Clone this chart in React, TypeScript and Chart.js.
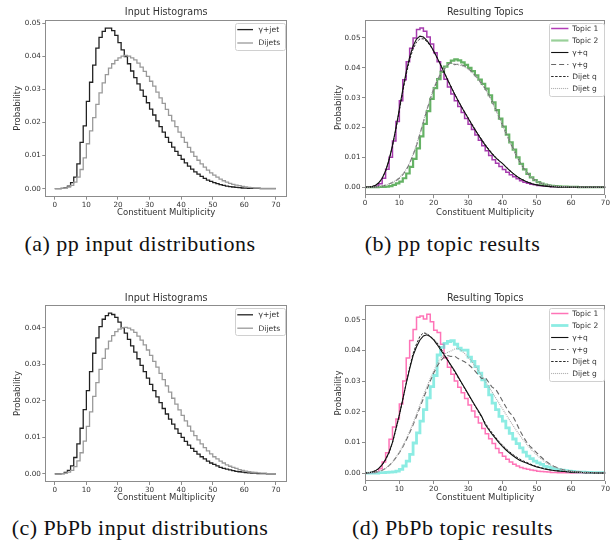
import React, { useEffect, useRef } from 'react';
import { Chart, registerables } from 'chart.js';
Chart.register(...registerables);

// ---------- data ----------
const binEdges = Array.from({ length: 71 }, (_, i) => i);
const xTickValues = [0, 10, 20, 30, 40, 50, 60, 70];
const yTicks05 = [0, 0.01, 0.02, 0.03, 0.04, 0.05];
const yTicks04 = [0, 0.01, 0.02, 0.03, 0.04];

const titleInput = 'Input Histograms';
const titleTopics = 'Resulting Topics';
const xAxisLabel = 'Constituent Multiplicity';
const yAxisLabel = 'Probability';
const captions = ['(a) pp input distributions', '(b) pp topic results', '(c) PbPb input distributions', '(d) PbPb topic results'];

// (a) pp input histograms, bins 0..69
const ppGammaJet = [
  0, 0, 0.0001, 0.0003, 0.0008, 0.0018, 0.0035, 0.0075, 0.0140, 0.0190,
  0.0264, 0.0322, 0.0374, 0.0425, 0.0458, 0.0476, 0.0486, 0.0486, 0.0478, 0.0464,
  0.0442, 0.0420, 0.0400, 0.0378, 0.0356, 0.0336, 0.0317, 0.0298, 0.0279, 0.0260,
  0.0241, 0.0223, 0.0205, 0.0188, 0.0171, 0.0155, 0.0140, 0.0126, 0.0113, 0.0101,
  0.0089, 0.0078, 0.0068, 0.0059, 0.0051, 0.0044, 0.0037, 0.0031, 0.0026, 0.0022,
  0.0018, 0.0015, 0.0012, 0.0010, 0.0008, 0.0006, 0.0005, 0.0004, 0.0003, 0.0002,
  0.0002, 0.0001, 0.0001, 0.0001, 0.0001, 0, 0, 0, 0, 0,
];
const ppDijets = [
  0, 0, 0.0001, 0.0002, 0.0005, 0.0010, 0.0020, 0.0035, 0.0058, 0.0093,
  0.0136, 0.0175, 0.0215, 0.0255, 0.0290, 0.0320, 0.0345, 0.0365, 0.0378, 0.0388,
  0.0396, 0.0401, 0.0403, 0.0401, 0.0396, 0.0390, 0.0380, 0.0368, 0.0355, 0.0340,
  0.0325, 0.0310, 0.0292, 0.0275, 0.0258, 0.0240, 0.0222, 0.0205, 0.0188, 0.0171,
  0.0155, 0.0140, 0.0125, 0.0111, 0.0098, 0.0086, 0.0075, 0.0065, 0.0056, 0.0048,
  0.0041, 0.0035, 0.0029, 0.0024, 0.0020, 0.0016, 0.0013, 0.0011, 0.0009, 0.0007,
  0.0005, 0.0004, 0.0003, 0.0002, 0.0002, 0.0001, 0.0001, 0.0001, 0.0001, 0.0001,
];

// (b) pp topics (histograms, bins 0..69) and reference curves (x = 0..70)
const ppTopic1 = [
  0, 0, 0.0001, 0.0004, 0.0012, 0.0030, 0.0060, 0.0100, 0.0155, 0.0220,
  0.0290, 0.0360, 0.0420, 0.0465, 0.0500, 0.0528, 0.0533, 0.0522, 0.0503, 0.0480,
  0.0450, 0.0420, 0.0390, 0.0362, 0.0336, 0.0312, 0.0290, 0.0270, 0.0250, 0.0230,
  0.0211, 0.0193, 0.0175, 0.0157, 0.0139, 0.0122, 0.0106, 0.0092, 0.0080, 0.0069,
  0.0059, 0.0050, 0.0042, 0.0035, 0.0028, 0.0022, 0.0017, 0.0013, 0.0010, 0.0008,
  0.0006, 0.0005, 0.0004, 0.0003, 0.0002, 0.0002, 0.0001, 0.0001, 0.0001, 0.0001,
  0, 0, 0, 0, 0, 0, 0, 0, 0, 0,
];
const ppTopic2 = [
  0, 0, 0, 0, 0.0001, 0.0001, 0.0002, 0.0004, 0.0008, 0.0013,
  0.0019, 0.0030, 0.0046, 0.0068, 0.0095, 0.0130, 0.0170, 0.0212, 0.0255, 0.0296,
  0.0332, 0.0362, 0.0386, 0.0404, 0.0416, 0.0424, 0.0428, 0.0425, 0.0418, 0.0410,
  0.0400, 0.0389, 0.0375, 0.0360, 0.0346, 0.0330, 0.0308, 0.0284, 0.0258, 0.0230,
  0.0203, 0.0176, 0.0150, 0.0126, 0.0100, 0.0078, 0.0060, 0.0045, 0.0033, 0.0024,
  0.0017, 0.0012, 0.0009, 0.0006, 0.0005, 0.0004, 0.0003, 0.0002, 0.0002, 0.0001,
  0.0001, 0.0001, 0, 0, 0, 0, 0, 0, 0, 0,
];
const ppGammaQ = [
  0, 0.0001, 0.0002, 0.0006, 0.0015, 0.0030, 0.0055, 0.0092, 0.0140, 0.0198,
  0.0262, 0.0327, 0.0386, 0.0436, 0.0473, 0.0496, 0.0506, 0.0503, 0.0492, 0.0476,
  0.0456, 0.0434, 0.0410, 0.0386, 0.0361, 0.0337, 0.0314, 0.0292, 0.0271, 0.0251,
  0.0232, 0.0212, 0.0193, 0.0175, 0.0157, 0.0141, 0.0126, 0.0112, 0.0099, 0.0089,
  0.0080, 0.0068, 0.0057, 0.0047, 0.0038, 0.0030, 0.0024, 0.0018, 0.0014, 0.0010,
  0.0008, 0.0006, 0.0004, 0.0003, 0.0002, 0.0002, 0.0001, 0.0001, 0.0001, 0,
  0, 0, 0, 0, 0, 0, 0, 0, 0, 0, 0,
];
const ppGammaG = [
  0, 0, 0.0001, 0.0001, 0.0002, 0.0004, 0.0007, 0.0011, 0.0016, 0.0022,
  0.0030, 0.0042, 0.0058, 0.0080, 0.0108, 0.0140, 0.0178, 0.0218, 0.0258, 0.0295,
  0.0328, 0.0357, 0.0378, 0.0395, 0.0408, 0.0418, 0.0410, 0.0412, 0.0410, 0.0405,
  0.0398, 0.0388, 0.0375, 0.0361, 0.0346, 0.0330, 0.0310, 0.0287, 0.0262, 0.0236,
  0.0209, 0.0182, 0.0156, 0.0132, 0.0108, 0.0086, 0.0067, 0.0051, 0.0038, 0.0028,
  0.0020, 0.0015, 0.0011, 0.0008, 0.0006, 0.0004, 0.0003, 0.0002, 0.0002, 0.0001,
  0.0001, 0.0001, 0, 0, 0, 0, 0, 0, 0, 0, 0,
];
const ppDijetQ = [
  0, 0.0001, 0.0002, 0.0006, 0.0014, 0.0029, 0.0054, 0.0090, 0.0137, 0.0194,
  0.0257, 0.0320, 0.0378, 0.0427, 0.0463, 0.0486, 0.0497, 0.0497, 0.0488, 0.0474,
  0.0455, 0.0433, 0.0410, 0.0386, 0.0362, 0.0338, 0.0315, 0.0293, 0.0272, 0.0252,
  0.0233, 0.0214, 0.0195, 0.0177, 0.0160, 0.0143, 0.0128, 0.0114, 0.0101, 0.0090,
  0.0080, 0.0069, 0.0058, 0.0048, 0.0039, 0.0031, 0.0025, 0.0019, 0.0015, 0.0011,
  0.0008, 0.0006, 0.0005, 0.0003, 0.0002, 0.0002, 0.0001, 0.0001, 0.0001, 0,
  0, 0, 0, 0, 0, 0, 0, 0, 0, 0, 0,
];
const ppDijetG = [
  0, 0, 0.0001, 0.0001, 0.0002, 0.0004, 0.0007, 0.0011, 0.0016, 0.0023,
  0.0032, 0.0044, 0.0060, 0.0082, 0.0110, 0.0143, 0.0181, 0.0221, 0.0261, 0.0298,
  0.0331, 0.0359, 0.0381, 0.0398, 0.0410, 0.0416, 0.0414, 0.0410, 0.0408, 0.0403,
  0.0396, 0.0386, 0.0374, 0.0360, 0.0345, 0.0329, 0.0309, 0.0286, 0.0261, 0.0235,
  0.0208, 0.0181, 0.0155, 0.0131, 0.0107, 0.0085, 0.0066, 0.0050, 0.0038, 0.0028,
  0.0020, 0.0015, 0.0011, 0.0008, 0.0006, 0.0004, 0.0003, 0.0002, 0.0002, 0.0001,
  0.0001, 0.0001, 0, 0, 0, 0, 0, 0, 0, 0, 0,
];

// (c) PbPb input histograms, bins 0..69
const pbGammaJet = [
  0, 0, 0.0001, 0.0004, 0.0010, 0.0022, 0.0045, 0.0082, 0.0125, 0.0176,
  0.0228, 0.0280, 0.0330, 0.0372, 0.0403, 0.0423, 0.0433, 0.0440, 0.0436, 0.0428,
  0.0415, 0.0400, 0.0385, 0.0368, 0.0350, 0.0333, 0.0315, 0.0297, 0.0280, 0.0262,
  0.0245, 0.0228, 0.0211, 0.0195, 0.0179, 0.0164, 0.0150, 0.0136, 0.0123, 0.0111,
  0.0100, 0.0089, 0.0079, 0.0070, 0.0062, 0.0054, 0.0047, 0.0041, 0.0035, 0.0030,
  0.0026, 0.0022, 0.0018, 0.0015, 0.0013, 0.0011, 0.0009, 0.0007, 0.0006, 0.0005,
  0.0004, 0.0003, 0.0002, 0.0002, 0.0001, 0.0001, 0.0001, 0, 0, 0,
];
const pbDijets = [
  0, 0, 0.0001, 0.0002, 0.0005, 0.0010, 0.0020, 0.0036, 0.0058, 0.0090,
  0.0130, 0.0170, 0.0212, 0.0250, 0.0286, 0.0316, 0.0342, 0.0363, 0.0378, 0.0389,
  0.0396, 0.0400, 0.0401, 0.0399, 0.0394, 0.0387, 0.0377, 0.0366, 0.0353, 0.0339,
  0.0324, 0.0308, 0.0292, 0.0275, 0.0258, 0.0241, 0.0224, 0.0207, 0.0191, 0.0175,
  0.0160, 0.0145, 0.0131, 0.0117, 0.0105, 0.0093, 0.0082, 0.0072, 0.0063, 0.0055,
  0.0047, 0.0041, 0.0035, 0.0030, 0.0025, 0.0021, 0.0018, 0.0015, 0.0012, 0.0010,
  0.0008, 0.0006, 0.0005, 0.0004, 0.0003, 0.0002, 0.0002, 0.0001, 0.0001, 0.0001,
];

// (d) PbPb topics (histograms, bins 0..69) and reference curves (x = 0..70)
const pbTopic1 = [
  0, 0, 0.0001, 0.0004, 0.0014, 0.0036, 0.0066, 0.0110, 0.0150, 0.0176,
  0.0225, 0.0300, 0.0375, 0.0432, 0.0468, 0.0508, 0.0512, 0.0502, 0.0518, 0.0493,
  0.0466, 0.0458, 0.0420, 0.0375, 0.0345, 0.0322, 0.0300, 0.0280, 0.0262, 0.0243,
  0.0222, 0.0202, 0.0183, 0.0163, 0.0145, 0.0128, 0.0112, 0.0096, 0.0080, 0.0066,
  0.0055, 0.0045, 0.0036, 0.0029, 0.0023, 0.0018, 0.0015, 0.0012, 0.0010, 0.0008,
  0.0006, 0.0005, 0.0004, 0.0003, 0.0002, 0.0002, 0.0001, 0.0001, 0.0001, 0.0001,
  0, 0, 0, 0, 0, 0, 0, 0, 0, 0,
];
const pbTopic2 = [
  0, 0, 0, 0, 0.0001, 0.0001, 0.0002, 0.0003, 0.0004, 0.0006,
  0.0012, 0.0023, 0.0039, 0.0061, 0.0098, 0.0131, 0.0169, 0.0207, 0.0245, 0.0282,
  0.0318, 0.0385, 0.0410, 0.0423, 0.0429, 0.0432, 0.0420, 0.0407, 0.0401, 0.0401,
  0.0378, 0.0364, 0.0347, 0.0326, 0.0304, 0.0282, 0.0255, 0.0228, 0.0207, 0.0185,
  0.0169, 0.0147, 0.0129, 0.0111, 0.0096, 0.0082, 0.0068, 0.0055, 0.0047, 0.0039,
  0.0033, 0.0028, 0.0022, 0.0019, 0.0016, 0.0013, 0.0011, 0.0009, 0.0008, 0.0006,
  0.0005, 0.0004, 0.0003, 0.0003, 0.0002, 0.0002, 0.0001, 0.0001, 0.0001, 0.0001,
];
const pbGammaQ = [
  0, 0.0001, 0.0003, 0.0007, 0.0015, 0.0027, 0.0045, 0.0068, 0.0100, 0.0145,
  0.0190, 0.0240, 0.0292, 0.0340, 0.0383, 0.0412, 0.0434, 0.0447, 0.0451, 0.0445,
  0.0434, 0.0419, 0.0402, 0.0386, 0.0369, 0.0352, 0.0335, 0.0316, 0.0297, 0.0278,
  0.0259, 0.0240, 0.0221, 0.0203, 0.0184, 0.0158, 0.0142, 0.0127, 0.0113, 0.0099,
  0.0087, 0.0076, 0.0066, 0.0057, 0.0049, 0.0042, 0.0037, 0.0033, 0.0028, 0.0024,
  0.0020, 0.0017, 0.0014, 0.0012, 0.0010, 0.0008, 0.0007, 0.0006, 0.0005, 0.0004,
  0.0003, 0.0003, 0.0002, 0.0002, 0.0001, 0.0001, 0.0001, 0, 0, 0, 0,
];
const pbGammaG = [
  0, 0.0001, 0.0002, 0.0003, 0.0005, 0.0009, 0.0015, 0.0024, 0.0036, 0.0050,
  0.0066, 0.0085, 0.0107, 0.0131, 0.0157, 0.0185, 0.0214, 0.0243, 0.0272, 0.0300,
  0.0326, 0.0348, 0.0366, 0.0378, 0.0383, 0.0380, 0.0382, 0.0374, 0.0368, 0.0363,
  0.0355, 0.0345, 0.0333, 0.0320, 0.0308, 0.0312, 0.0296, 0.0280, 0.0274, 0.0256,
  0.0236, 0.0216, 0.0198, 0.0186, 0.0165, 0.0141, 0.0120, 0.0102, 0.0088, 0.0077,
  0.0066, 0.0055, 0.0045, 0.0036, 0.0028, 0.0022, 0.0017, 0.0013, 0.0010, 0.0008,
  0.0006, 0.0005, 0.0004, 0.0003, 0.0002, 0.0002, 0.0001, 0.0001, 0, 0, 0,
];
const pbDijetQ = [
  0, 0.0001, 0.0003, 0.0007, 0.0014, 0.0026, 0.0043, 0.0066, 0.0098, 0.0142,
  0.0188, 0.0240, 0.0294, 0.0345, 0.0390, 0.0421, 0.0446, 0.0457, 0.0455, 0.0446,
  0.0436, 0.0425, 0.0408, 0.0389, 0.0370, 0.0350, 0.0332, 0.0313, 0.0295, 0.0276,
  0.0257, 0.0238, 0.0219, 0.0200, 0.0182, 0.0163, 0.0146, 0.0131, 0.0117, 0.0103,
  0.0091, 0.0080, 0.0070, 0.0061, 0.0053, 0.0046, 0.0040, 0.0035, 0.0030, 0.0025,
  0.0021, 0.0018, 0.0015, 0.0012, 0.0010, 0.0008, 0.0007, 0.0006, 0.0005, 0.0004,
  0.0003, 0.0003, 0.0002, 0.0002, 0.0001, 0.0001, 0.0001, 0, 0, 0, 0,
];
const pbDijetG = [
  0, 0.0001, 0.0002, 0.0003, 0.0005, 0.0009, 0.0015, 0.0024, 0.0036, 0.0051,
  0.0068, 0.0088, 0.0111, 0.0136, 0.0163, 0.0192, 0.0222, 0.0252, 0.0281, 0.0308,
  0.0333, 0.0356, 0.0374, 0.0386, 0.0393, 0.0398, 0.0404, 0.0407, 0.0400, 0.0390,
  0.0378, 0.0365, 0.0350, 0.0334, 0.0317, 0.0300, 0.0282, 0.0264, 0.0246, 0.0228,
  0.0210, 0.0192, 0.0174, 0.0157, 0.0140, 0.0124, 0.0109, 0.0095, 0.0082, 0.0070,
  0.0059, 0.0049, 0.0040, 0.0032, 0.0026, 0.0020, 0.0016, 0.0012, 0.0009, 0.0007,
  0.0005, 0.0004, 0.0003, 0.0002, 0.0002, 0.0001, 0.0001, 0, 0, 0, 0,
];

// ---------- styling ----------
const TEXT = '#333333';
const FRAME = '#8c8c8c';
const SANS = '"DejaVu Sans", sans-serif';

function hist(label: string, values: number[], color: string, width: number, legendColor?: string) {
  const pts = values.map((v, i) => ({ x: binEdges[i], y: v }));
  pts.push({ x: binEdges[values.length], y: values[values.length - 1] });
  return { label, data: pts, borderColor: color, backgroundColor: legendColor || color, borderWidth: width, stepped: 'before', pointRadius: 0, fill: false };
}
function curve(label: string, values: number[], color: string, width: number, dash: number[] = []) {
  return {
    label, data: values.map((v, i) => ({ x: binEdges[i], y: v })), borderColor: color, backgroundColor: color,
    borderWidth: width, borderDash: dash, pointRadius: 0, fill: false, tension: 0,
  };
}

const decorPlugin = {
  id: 'decor',
  afterDraw(chart: any, _a: any, opts: any) {
    const { ctx, chartArea: a } = chart;
    ctx.save();
    // frame
    ctx.strokeStyle = FRAME;
    ctx.lineWidth = 1;
    ctx.strokeRect(Math.round(a.left) + 0.5, Math.round(a.top) + 0.5, Math.round(a.right - a.left) - 1, Math.round(a.bottom - a.top) - 1);
    // title
    ctx.fillStyle = TEXT;
    ctx.font = `${opts.titleSize}px ${SANS}`;
    ctx.textAlign = 'center';
    ctx.textBaseline = 'middle';
    ctx.fillText(opts.title, (a.left + a.right) / 2, a.top - opts.titleGap);
    // legend
    const lg = opts.legend;
    const bx = a.right - lg.right - lg.w;
    const by = a.top + lg.top;
    ctx.fillStyle = 'rgba(255,255,255,0.85)';
    ctx.strokeStyle = '#d0d0d0';
    ctx.lineWidth = 1;
    ctx.beginPath();
    const r = 2, x0 = Math.round(bx) + 0.5, y0 = Math.round(by) + 0.5, w = Math.round(lg.w), h = Math.round(lg.h);
    ctx.moveTo(x0 + r, y0);
    ctx.arcTo(x0 + w, y0, x0 + w, y0 + h, r);
    ctx.arcTo(x0 + w, y0 + h, x0, y0 + h, r);
    ctx.arcTo(x0, y0 + h, x0, y0, r);
    ctx.arcTo(x0, y0, x0 + w, y0, r);
    ctx.closePath();
    ctx.fill();
    ctx.stroke();
    ctx.font = `${lg.font}px ${SANS}`;
    ctx.textAlign = 'left';
    ctx.textBaseline = 'middle';
    chart.data.datasets.forEach((ds: any, i: number) => {
      const y = by + lg.first + i * lg.step;
      ctx.strokeStyle = ds.backgroundColor;
      ctx.lineWidth = ds.borderWidth;
      ctx.setLineDash(ds.borderDash || []);
      ctx.beginPath();
      ctx.moveTo(bx + lg.pad, y);
      ctx.lineTo(bx + lg.pad + lg.len, y);
      ctx.stroke();
      ctx.setLineDash([]);
      ctx.fillStyle = TEXT;
      ctx.fillText(ds.label, bx + lg.textX, y + 0.5);
    });
    ctx.restore();
  },
};

type PanelCfg = {
  left: number; top: number; w: number; h: number;
  pad: { left: number; right: number; top: number; bottom: number };
  yW: number; xH: number;
  xMin: number; xMax: number; yMin: number; yMax: number;
  yTicks: number[];
  title: string; titleGap: number;
  legend: any;
  datasets: any[];
};

function Panel({ cfg }: { cfg: PanelCfg }) {
  const ref = useRef<HTMLCanvasElement>(null);
  useEffect(() => {
    const n = cfg.datasets.length;
    const datasets = cfg.datasets.map((d, i) => ({ ...d, order: n - i }));
    const tickFont = { family: SANS, size: 7.2 };
    const labelFont = { family: SANS, size: 8.5 };
    const chart = new Chart(ref.current as HTMLCanvasElement, {
      type: 'line',
      data: { datasets },
      plugins: [decorPlugin],
      options: {
        animation: false,
        responsive: false,
        maintainAspectRatio: false,
        layout: { padding: cfg.pad },
        plugins: {
          legend: { display: false },
          title: { display: false },
          tooltip: { enabled: false },
          decor: { title: cfg.title, titleGap: cfg.titleGap, titleSize: 9.6, legend: cfg.legend },
        } as any,
        scales: {
          x: {
            type: 'linear', min: cfg.xMin, max: cfg.xMax,
            afterBuildTicks: (s: any) => { s.ticks = xTickValues.map((value) => ({ value })); },
            afterFit: (s: any) => { s.height = cfg.xH; },
            ticks: { autoSkip: false, maxRotation: 0, padding: 1, color: TEXT, font: tickFont, callback: (v: any) => String(v) },
            grid: { display: true, drawOnChartArea: false, drawTicks: true, tickLength: 3, color: FRAME },
            border: { display: false },
            title: { display: true, text: xAxisLabel, color: TEXT, font: labelFont, padding: 0 },
          },
          y: {
            type: 'linear', min: cfg.yMin, max: cfg.yMax,
            afterBuildTicks: (s: any) => { s.ticks = cfg.yTicks.map((value) => ({ value })); },
            afterFit: (s: any) => { s.width = cfg.yW; },
            ticks: { autoSkip: false, padding: 1.5, color: TEXT, font: tickFont, callback: (v: any) => Number(v).toFixed(2) },
            grid: { display: true, drawOnChartArea: false, drawTicks: true, tickLength: 3, color: FRAME },
            border: { display: false },
            title: { display: true, text: yAxisLabel, color: TEXT, font: labelFont, padding: 0 },
          },
        },
      } as any,
    });
    return () => chart.destroy();
  }, [cfg]);
  return (
    <canvas
      ref={ref}
      width={cfg.w}
      height={cfg.h}
      style={{ position: 'absolute', left: cfg.left, top: cfg.top, width: cfg.w, height: cfg.h }}
    />
  );
}

const legendInput = { w: 50, h: 27, right: 2, top: 3.2, first: 6.6, step: 13.4, pad: 2.3, len: 15.7, textX: 23.5, font: 7.6 };
const legendTopics = { w: 55, h: 73, right: 1.7, top: 2.6, first: 5.9, step: 12, pad: 2.4, len: 17.3, textX: 23.5, font: 7.5 };

const panels: PanelCfg[] = [
  {
    left: 0, top: 0, w: 305, h: 225,
    pad: { left: 12.5, right: 18, top: 19.8, bottom: 7.2 }, yW: 32.8, xH: 21.1,
    xMin: -3, xMax: 73.5, yMin: -0.00243, yMax: 0.0511, yTicks: yTicks05,
    title: titleInput, titleGap: 7, legend: legendInput,
    datasets: [hist('γ+jet', ppGammaJet, '#222222', 1.3), hist('Dijets', ppDijets, '#9a9a9a', 1.3)],
  },
  {
    left: 305, top: 0, w: 306, h: 225,
    pad: { left: 28.8, right: 5, top: 20, bottom: 7.2 }, yW: 31.2, xH: 22.6,
    xMin: 0, xMax: 70, yMin: -0.00267, yMax: 0.056, yTicks: yTicks05,
    title: titleTopics, titleGap: 7.3, legend: legendTopics,
    datasets: [
      hist('Topic 1', ppTopic1, 'rgba(150,25,160,0.85)', 1.5, 'rgba(170,40,175,0.9)'),
      hist('Topic 2', ppTopic2, 'rgba(35,145,35,0.7)', 2.2, 'rgba(70,170,70,0.55)'),
      curve('γ+q', ppGammaQ, '#111111', 1.1),
      curve('γ+g', ppGammaG, '#666666', 1.1, [5, 3]),
      curve('Dijet q', ppDijetQ, '#111111', 0.9, [2.5, 1.5]),
      curve('Dijet g', ppDijetG, '#aaaaaa', 1.1, [1, 1]),
    ],
  },
  {
    left: 0, top: 280, w: 305, h: 225,
    pad: { left: 12.5, right: 18, top: 25, bottom: 1.9 }, yW: 32.8, xH: 21.1,
    xMin: -3, xMax: 73.5, yMin: -0.0022, yMax: 0.0462, yTicks: yTicks04,
    title: titleInput, titleGap: 7, legend: legendInput,
    datasets: [hist('γ+jet', pbGammaJet, '#222222', 1.3), hist('Dijets', pbDijets, '#9a9a9a', 1.3)],
  },
  {
    left: 305, top: 280, w: 306, h: 225,
    pad: { left: 28.8, right: 5, top: 25, bottom: 1.9 }, yW: 31.2, xH: 22.1,
    xMin: 0, xMax: 70, yMin: -0.0026, yMax: 0.0548, yTicks: yTicks05,
    title: titleTopics, titleGap: 7, legend: legendTopics,
    datasets: [
      hist('Topic 1', pbTopic1, 'rgba(255,90,170,0.85)', 1.5),
      hist('Topic 2', pbTopic2, 'rgba(64,224,208,0.6)', 2.8),
      curve('γ+q', pbGammaQ, '#111111', 1.1),
      curve('γ+g', pbGammaG, '#666666', 1.1, [5, 3]),
      curve('Dijet q', pbDijetQ, '#111111', 0.9, [2.5, 1.5]),
      curve('Dijet g', pbDijetG, '#aaaaaa', 1.1, [1, 1]),
    ],
  },
];

const captionPos = [
  { cx: 140, cy: 244 },
  { cx: 452.5, cy: 244 },
  { cx: 140, cy: 528 },
  { cx: 452.5, cy: 528 },
];

export default function App() {
  return (
    <div style={{ position: 'absolute', left: 0, top: 0, width: 611, height: 552, background: '#ffffff', overflow: 'hidden' }}>
      {panels.map((p, i) => <Panel key={i} cfg={p} />)}
      {captions.map((c, i) => (
        <div
          key={'c' + i}
          style={{
            position: 'absolute', left: captionPos[i].cx - 160, top: captionPos[i].cy - 14, width: 320, height: 28,
            lineHeight: '28px', textAlign: 'center', fontFamily: '"Liberation Serif", serif', fontSize: 22,
            letterSpacing: '0.5px', color: '#111', whiteSpace: 'nowrap',
          }}
        >
          {c}
        </div>
      ))}
    </div>
  );
}
